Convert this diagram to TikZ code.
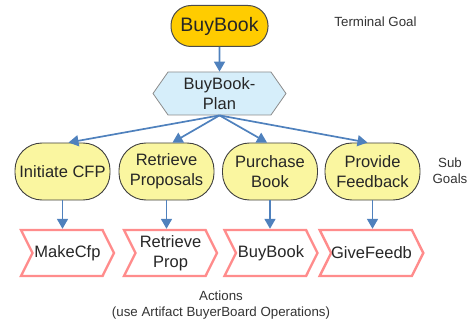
\documentclass[tikz,border=0pt]{standalone}
\usepackage{fontspec}
\setmainfont{Liberation Sans}
\usepackage{tikz}
\usetikzlibrary{calc}
\usetikzlibrary{shapes.symbols}
\usetikzlibrary{arrows.meta}
\tikzset{>=latex}
\definecolor{goldfill}{HTML}{FFCC00}
\definecolor{subfill}{HTML}{FAF6A0}
\definecolor{planfill}{HTML}{D6EEFA}
\definecolor{arrowblue}{HTML}{4F81BD}
\definecolor{actpink}{HTML}{FF8C8C}

\begin{document}
\begin{tikzpicture}
                [x=1pt,y=-1pt,
                 every node/.style={align=center,font=\fontsize{16.5}{20}\selectfont,inner sep=0pt,text=black!85},
                 goalbox/.style={rectangle,rounded corners=20pt,fill=goldfill,draw=black!70,line width=1pt,
                   minimum width=97pt,minimum height=41pt,font=\fontsize{19.5}{22}\selectfont},
                 planbox/.style={signal,signal to=west and east,signal pointer angle=110,fill=planfill,
                   draw=black!45,line width=0.8pt,minimum width=133pt,minimum height=43pt},
                 subbox/.style={rectangle,rounded corners=27pt,fill=subfill,draw=black!75,line width=0.9pt,
                   minimum width=95pt,minimum height=57pt},
                 actbox/.style={signal,signal to=east,signal from=west,signal pointer angle=127,fill=white,
                   draw=actpink,line width=2.4pt,minimum width=93pt,minimum height=46pt},
                 note/.style={font=\fontsize{13.3}{16}\selectfont,text=black!80},
                 link/.style={->,draw=arrowblue,line width=1.7pt,>={Triangle[width=11pt,length=10pt]}}]
                \useasboundingbox (0,0) rectangle (471,326);

                \node[goalbox] (goal) at (219.5,26) {BuyBook};
                \node[planbox] (plan) at (219.5,93.5) {BuyBook-\\Plan};

                \node[subbox] (s1) at (62.5,171.5) {Initiate CFP};
                \node[subbox] (s2) at (166.5,171.5) {Retrieve\\Proposals};
                \node[subbox] (s3) at (270,171.5) {Purchase\\Book};
                \node[subbox] (s4) at (372.5,171.5) {Provide\\Feedback};

                \node[actbox] (a1) at (67.5,253) {MakeCfp};
                \node[actbox] (a2) at (170.5,253) {Retrieve\\Prop};
                \node[actbox] (a3) at (271,253) {BuyBook};
                \node[actbox] (a4) at (371.5,253) {GiveFeedb};

                \node[note] (lterm) at (375.5,22) {Terminal Goal};
                \node[note] (lsub) at (450,171) {Sub\\Goals};
                \node[note] (lact) at (221,305) {Actions\\(use Artifact BuyerBoard Operations)};

                
                \draw[link] (goal) -- (plan);
                \draw[link] (plan.south) -- ([xshift=6pt]s1.north);
                \draw[link] (plan.south) -- ([xshift=6pt]s2.north);
                \draw[link] (plan.south) -- ([xshift=-3pt]s3.north);
                \draw[link] (plan.south) -- ([xshift=-5pt]s4.north);
                \draw[link] (s1) -- (s1 |- a1.north);
                \draw[link] (s2) -- (s2 |- a2.north);
                \draw[link] (s3) -- (s3 |- a3.north);
                \draw[link] (s4) -- (s4 |- a4.north);
            \end{tikzpicture}
\end{document}
